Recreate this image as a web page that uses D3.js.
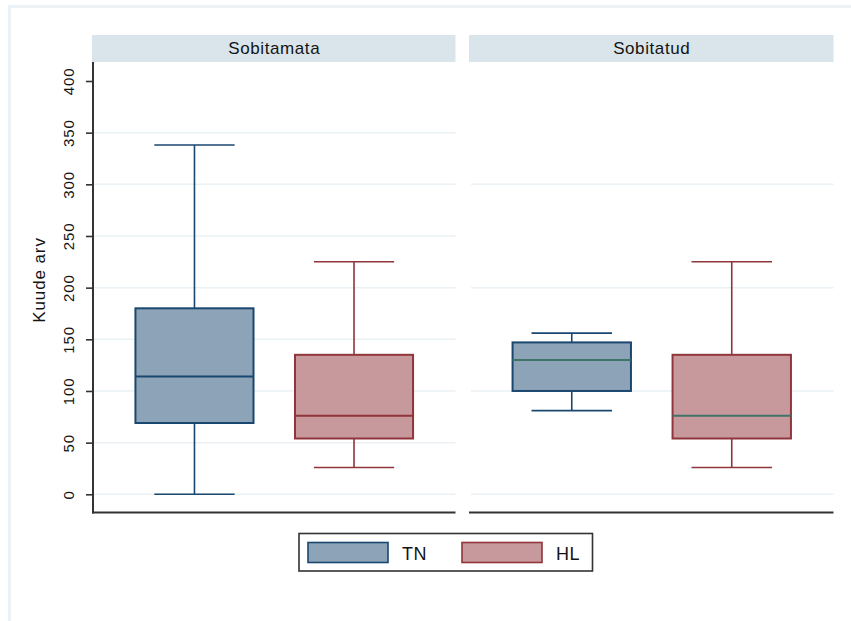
<!DOCTYPE html>
<html>
<head>
<meta charset="utf-8">
<script src="https://cdn.jsdelivr.net/npm/d3@7"></script>
<style>
  html, body { margin: 0; padding: 0; background: #ffffff; }
  svg { display: block; font-family: "Liberation Sans", Arial, sans-serif; }
</style>
</head>
<body>
<svg id="chart" width="851" height="621"></svg>
<script>
// ---- data ----
const panels = ["Sobitamata", "Sobitatud"];
const groups = ["TN", "HL"];
// [lower whisker, q1, median, q3, upper whisker]
const tnSobitamata = [0, 69, 114, 180, 338];
const hlSobitamata = [26, 54, 76, 135, 225];
const tnSobitatud  = [81, 100, 130, 147, 156];
const hlSobitatud  = [26, 54, 76, 135, 225];
const yTicks = [0, 50, 100, 150, 200, 250, 300, 350, 400];
const gridSobitamata = [0, 50, 100, 150, 200, 250, 300, 350];
const gridSobitatud  = [0, 100, 200, 300];
const yTitle = "Kuude arv";

(function () {
const panelData = [
  { name: panels[0], boxes: [tnSobitamata, hlSobitamata], grid: gridSobitamata, medianColor: null },
  { name: panels[1], boxes: [tnSobitatud, hlSobitatud], grid: gridSobitatud, medianColor: "#3f7566" }
];

// ---- styles ----
const fills = { TN: "#8da3b7", HL: "#c8999c" };
const strokes = { TN: "#1a476f", HL: "#90353b" };
const gridColor = "#eaf1f4";
const stripColor = "#d9e5eb";
const axisColor = "#333333";
const textColor = "#141414";

const svg = d3.select("#chart");

// outer frame
svg.append("rect")
  .attr("x", 9.5).attr("y", 6.5).attr("width", 900).attr("height", 700)
  .attr("fill", "#ffffff").attr("stroke", "#ebf1f4").attr("stroke-width", 3);

const plotTop = 62, plotBottom = 512.5;
const y = d3.scaleLinear().domain([0, 400]).range([494.3, 81]);

const panelX = [[93, 455.5], [470, 833.5]];

panelData.forEach((p, i) => {
  const [x0, x1] = panelX[i];
  const g = svg.append("g");
  // strip
  g.append("rect").attr("x", x0 - 1).attr("y", 35).attr("width", x1 - x0 + 1).attr("height", 27)
    .attr("fill", stripColor);
  g.append("text").attr("x", (x0 + x1) / 2).attr("y", 54)
    .attr("text-anchor", "middle").attr("font-size", 17).attr("letter-spacing", 0.6)
    .attr("fill", textColor).text(p.name);

  // grid
  g.selectAll(".grid").data(p.grid).join("line")
    .attr("x1", x0 + 1).attr("x2", x1)
    .attr("y1", d => y(d)).attr("y2", d => y(d))
    .attr("stroke", gridColor).attr("stroke-width", 1.5);

  // band scale
  const xb = d3.scaleBand().domain(groups).range([x0, x1]).paddingInner(0.26).paddingOuter(0.266);
  const bw = xb.bandwidth();
  groups.forEach((grp, k) => {
    const v = p.boxes[k];
    const cx = xb(grp) + bw / 2;
    const capW = bw * 0.68;
    const sc = strokes[grp];
    // whiskers
    g.append("line").attr("x1", cx).attr("x2", cx).attr("y1", y(v[4])).attr("y2", y(v[3]))
      .attr("stroke", sc).attr("stroke-width", 1.6);
    g.append("line").attr("x1", cx).attr("x2", cx).attr("y1", y(v[1])).attr("y2", y(v[0]))
      .attr("stroke", sc).attr("stroke-width", 1.6);
    g.append("line").attr("x1", cx - capW / 2).attr("x2", cx + capW / 2).attr("y1", y(v[4])).attr("y2", y(v[4]))
      .attr("stroke", sc).attr("stroke-width", 1.6);
    g.append("line").attr("x1", cx - capW / 2).attr("x2", cx + capW / 2).attr("y1", y(v[0])).attr("y2", y(v[0]))
      .attr("stroke", sc).attr("stroke-width", 1.6);
    // box
    g.append("rect").attr("x", xb(grp)).attr("y", y(v[3])).attr("width", bw).attr("height", y(v[1]) - y(v[3]))
      .attr("fill", fills[grp]).attr("stroke", sc).attr("stroke-width", 2);
    // median
    g.append("line").attr("x1", xb(grp)).attr("x2", xb(grp) + bw).attr("y1", y(v[2])).attr("y2", y(v[2]))
      .attr("stroke", p.medianColor || sc).attr("stroke-width", 2);
  });

  // x axis line
  g.append("line").attr("x1", x0 - 1).attr("x2", x1).attr("y1", plotBottom).attr("y2", plotBottom)
    .attr("stroke", axisColor).attr("stroke-width", 2);
});

// y axis
const yAxis = d3.axisLeft(y).tickValues(yTicks).tickSize(7).tickPadding(0);
const ag = svg.append("g").attr("transform", "translate(93,0)").call(yAxis);
ag.select(".domain").remove();
ag.selectAll(".tick line").attr("stroke", axisColor).attr("stroke-width", 1.6);
ag.selectAll(".tick text")
  .attr("transform", "rotate(-90)")
  .attr("x", 0).attr("y", -19).attr("dy", 0)
  .attr("text-anchor", "middle")
  .attr("font-size", 15).attr("letter-spacing", 0.9)
  .attr("font-family", "'Liberation Sans', Arial, sans-serif")
  .attr("fill", textColor);
svg.append("line").attr("x1", 93).attr("x2", 93).attr("y1", plotTop).attr("y2", plotBottom + 1)
  .attr("stroke", axisColor).attr("stroke-width", 2);

// y title
svg.append("text").attr("transform", "translate(44.5,280) rotate(-90)")
  .attr("text-anchor", "middle").attr("font-size", 17).attr("letter-spacing", 0.9)
  .attr("fill", textColor).text(yTitle);

// legend
const lg = svg.append("g");
lg.append("rect").attr("x", 299).attr("y", 533.5).attr("width", 293.5).attr("height", 37.5)
  .attr("fill", "#ffffff").attr("stroke", axisColor).attr("stroke-width", 1.6);
const legX = { TN: 308, HL: 462 };
groups.forEach(grp => {
  lg.append("rect").attr("x", legX[grp]).attr("y", 542.5).attr("width", 80).attr("height", 20)
    .attr("fill", fills[grp]).attr("stroke", strokes[grp]).attr("stroke-width", 1.6);
  lg.append("text").attr("x", legX[grp] + 94).attr("y", 559.5)
    .attr("font-size", 18).attr("letter-spacing", 0.6).attr("fill", textColor).text(grp);
});
})();
</script>
</body>
</html>
